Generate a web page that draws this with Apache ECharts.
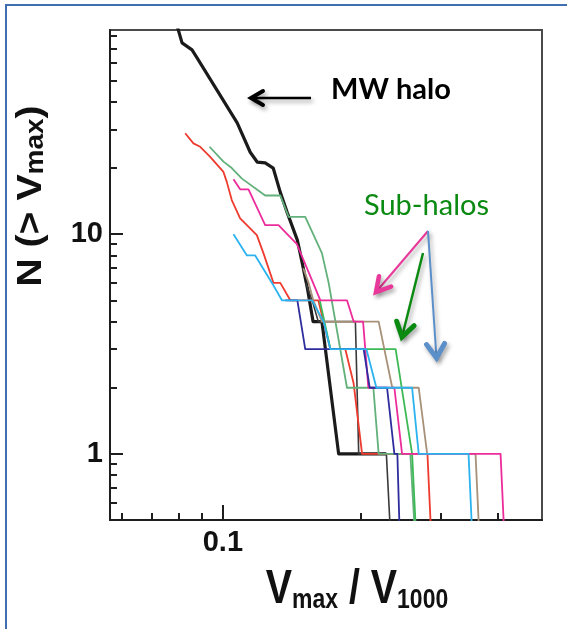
<!DOCTYPE html>
<html>
<head>
<meta charset="utf-8">
<script src="https://cdn.jsdelivr.net/npm/echarts@6/dist/echarts.min.js"></script>
<style>
  html, body { margin: 0; padding: 0; background: #ffffff; }
  #chart { width: 567px; height: 629px; }
</style>
</head>
<body>
<div id="chart"></div>
<script>
// ---- axis ranges and ticks (data units) ----
const xRange = [0.0566, 0.5];
const yRange = [0.5, 85];
const xMajorTicks = [0.1];
const xMinorTicks = [0.06, 0.07, 0.08, 0.09, 0.2, 0.3, 0.4];
const yMajorTicks = [1, 10];
const yMinorTicks = [0.6, 0.7, 0.8, 0.9, 2, 3, 4, 5, 6, 7, 8, 9, 20, 30, 40, 50, 60, 70, 80];

// ---- cumulative counts N(>Vmax) against Vmax/V1000 ----
const mwVmax = [0.0795, 0.0814, 0.0856, 0.0878, 0.1075, 0.1148, 0.1189, 0.1238, 0.1289, 0.1336, 0.1384, 0.1456, 0.1492, 0.1531, 0.1576, 0.1648, 0.1793, 0.2281];
const mwN    = [88, 74.3, 69, 63.5, 32.1, 23.6, 21.3, 21.1, 20, 15.5, 12.5, 9.4, 7.4, 5.7, 4, 4, 1, 1];

const grayVmax = [0.1519, 0.1569, 0.1618, 0.1951, 0.1984, 0.2281, 0.2333];
const grayN    = [6, 5, 4, 4, 1, 1, 0.4];

const redVmax = [0.0827, 0.0862, 0.0892, 0.0938, 0.1003, 0.1020, 0.1046, 0.1091, 0.1187, 0.1227, 0.1291, 0.1336, 0.1405, 0.1618, 0.1719, 0.1854, 0.1934, 0.2018, 0.2806, 0.2863];
const redN    = [28.8, 25.9, 25.0, 22.5, 19.2, 17.3, 14.3, 11.8, 9.9, 8.2, 6, 6, 5, 5, 3, 3, 2.09, 1, 1, 0.4];

const seaGreenVmax = [0.0935, 0.1003, 0.1046, 0.1101, 0.1238, 0.1336, 0.1393, 0.1515, 0.1648, 0.1705, 0.1870, 0.2136, 0.2194, 0.2574, 0.2640];
const seaGreenN    = [25, 21.4, 20, 17.9, 15, 15, 12, 12, 8.2, 6, 2, 2, 1, 1, 0.4];

const greenVmax = [0.1630, 0.1720, 0.2390, 0.2597, 0.2615, 0.2654];
const greenN    = [5, 3, 3, 1, 1, 0.4];

const brownVmax = [0.1500, 0.1541, 0.1578, 0.1648, 0.2194, 0.2350, 0.2685, 0.2802, 0.3576, 0.3649];
const brownN    = [7, 6, 5, 4, 4, 2, 2, 1, 1, 0.4];

const pinkVmax = [0.1055, 0.1091, 0.1138, 0.1238, 0.1324, 0.1453, 0.1528, 0.1635, 0.1870, 0.1934, 0.2028, 0.2083, 0.2375, 0.2469, 0.4057, 0.4140];
const pinkN    = [17.8, 16, 16, 11, 11, 9, 7, 5, 5, 4, 4, 2, 2, 1, 1, 0.4];

const navyVmax = [0.1370, 0.1456, 0.1515, 0.2034, 0.2097, 0.2289, 0.2375, 0.2411, 0.2442];
const navyN    = [5, 5, 3, 3, 2, 2, 1, 1, 0.4];

const skyVmax = [0.1055, 0.1129, 0.1177, 0.1281, 0.1347, 0.1568, 0.1662, 0.1719, 0.2062, 0.2169, 0.2597, 0.2685, 0.3452, 0.3522];
const skyN    = [10, 8, 8, 6, 5, 5, 4, 3, 3, 2, 2, 1, 1, 0.4];

// ---- helpers ----
const lg = Math.log10;
const toPts = (xs, ys) => xs.map((x, i) => [lg(x), lg(ys[i])]);
const fmtNum = v => String(Number(Math.pow(10, v).toPrecision(3)));

const curves = [
  { name: 'MW halo', x: mwVmax, y: mwN, color: '#1b1b1b', width: 3.2 },
  { name: 'sub-halo A', x: grayVmax, y: grayN, color: '#3a3a3a', width: 1.6 },
  { name: 'sub-halo B', x: redVmax, y: redN, color: '#ee3b2e', width: 1.8 },
  { name: 'sub-halo C', x: seaGreenVmax, y: seaGreenN, color: '#62b07a', width: 1.8 },
  { name: 'sub-halo D', x: greenVmax, y: greenN, color: '#3dba55', width: 1.8 },
  { name: 'sub-halo E', x: brownVmax, y: brownN, color: '#a89179', width: 1.8 },
  { name: 'sub-halo F', x: pinkVmax, y: pinkN, color: '#ec2c9b', width: 1.8 },
  { name: 'sub-halo G', x: navyVmax, y: navyN, color: '#2d2d9e', width: 1.8 },
  { name: 'sub-halo H', x: skyVmax, y: skyN, color: '#2bb3ef', width: 1.8 }
];

const FONT = '"Liberation Sans", Arial, sans-serif';
const FONT_ANN = 'Lato, "Open Sans", sans-serif';

// arrow head as a chevron polyline, tip at (tx,ty), coming from (fx,fy)
function chevron(fx, fy, tx, ty, len, half) {
  const dx = tx - fx, dy = ty - fy, d = Math.hypot(dx, dy);
  const ux = dx / d, uy = dy / d, px = -uy, py = ux;
  return [[tx - ux * len + px * half, ty - uy * len + py * half], [tx, ty], [tx - ux * len - px * half, ty - uy * len - py * half]];
}
function arrow(fx, fy, tx, ty, color, lw, len, half, headW) {
  const shadow = { shadowBlur: 4, shadowOffsetX: 2, shadowOffsetY: 3, shadowColor: 'rgba(0,0,0,0.35)' };
  return [
    { type: 'line', shape: { x1: fx, y1: fy, x2: tx, y2: ty }, style: Object.assign({ stroke: color, lineWidth: lw }, shadow), z: 100 },
    { type: 'polyline', shape: { points: chevron(fx, fy, tx, ty, len, half) }, style: Object.assign({ stroke: color, lineWidth: headW, fill: null, lineJoin: 'miter', lineCap: 'round' }, shadow), z: 100 }
  ];
}

const chart = echarts.init(document.getElementById('chart'), null, { renderer: 'canvas' });

const axisCommon = { type: 'value', splitLine: { show: false }, minorTick: { show: false } };
const lineOff = { show: false, onZero: false };

const option = {
  backgroundColor: '#ffffff',
  animation: false,
  grid: { left: 110, top: 30, width: 432, height: 490, containLabel: false, show: true, borderColor: '#4a4a4a', borderWidth: 2, backgroundColor: 'transparent' },
  xAxis: [
    Object.assign({}, axisCommon, {
      min: lg(xRange[0]), max: lg(xRange[1]), position: 'bottom',
      axisLine: { show: true, onZero: false, lineStyle: { color: '#1e1e1e', width: 2 } },
      axisTick: { show: true, inside: true, length: 15, lineStyle: { color: '#1e1e1e', width: 2 }, customValues: xMajorTicks.map(lg) },
      axisLabel: { show: true, margin: 8, color: '#111', fontFamily: FONT, fontWeight: 'bold', fontSize: 29, customValues: xMajorTicks.map(lg), formatter: fmtNum }
    }),
    Object.assign({}, axisCommon, {
      min: lg(xRange[0]), max: lg(xRange[1]), position: 'bottom', offset: 0,
      axisLine: lineOff,
      axisTick: { show: true, inside: true, length: 7, lineStyle: { color: '#1e1e1e', width: 2 }, customValues: xMinorTicks.map(lg) },
      axisLabel: { show: false }
    })
  ],
  yAxis: [
    Object.assign({}, axisCommon, {
      min: lg(yRange[0]), max: lg(yRange[1]), position: 'left',
      axisLine: { show: true, onZero: false, lineStyle: { color: '#1e1e1e', width: 2 } },
      axisTick: { show: true, inside: true, length: 13, lineStyle: { color: '#1e1e1e', width: 2 }, customValues: yMajorTicks.map(lg) },
      axisLabel: { show: true, margin: 7, color: '#111', fontFamily: FONT, fontWeight: 'bold', fontSize: 29, customValues: yMajorTicks.map(lg), formatter: fmtNum }
    }),
    Object.assign({}, axisCommon, {
      min: lg(yRange[0]), max: lg(yRange[1]), position: 'left', offset: 0,
      axisLine: lineOff,
      axisTick: { show: true, inside: true, length: 7, lineStyle: { color: '#1e1e1e', width: 2 }, customValues: yMinorTicks.map(lg) },
      axisLabel: { show: false }
    })
  ],
  series: curves.map(c => ({
    type: 'line', name: c.name, xAxisIndex: 0, yAxisIndex: 0,
    data: toPts(c.x, c.y), showSymbol: false, symbol: 'none', clip: true,
    lineStyle: { color: c.color, width: c.width, join: 'round' }, emphasis: { disabled: true }
  })),
  graphic: [
    // slide frame
    { type: 'rect', shape: { x: 6, y: 5, width: 620, height: 700 }, style: { stroke: '#3f6fb0', lineWidth: 2, fill: null }, z: 0, silent: true },
    // axis titles
    {
      type: 'text', x: 357, y: 614, scaleX: 0.82, z: 50,
      style: {
        text: '{m|V}{s|max}{m| / V}{s|1000}', align: 'center', verticalAlign: 'bottom',
        rich: {
          m: { fontFamily: FONT, fontWeight: 'bold', fontSize: 48, lineHeight: 48, verticalAlign: 'bottom', fill: '#111' },
          s: { fontFamily: FONT, fontWeight: 'bold', fontSize: 28, lineHeight: 8, verticalAlign: 'bottom', fill: '#111' }
        }
      }
    },
    {
      type: 'text', x: 31, y: 196, rotation: Math.PI / 2, scaleX: 1.12, z: 50,
      style: {
        text: '{m|N (> V}{s|max}{m|)}', align: 'center', verticalAlign: 'middle',
        rich: {
          m: { fontFamily: FONT, fontWeight: 'bold', fontSize: 35, lineHeight: 35, verticalAlign: 'bottom', fill: '#111' },
          s: { fontFamily: FONT, fontWeight: 'bold', fontSize: 25, lineHeight: 12, verticalAlign: 'bottom', fill: '#111' }
        }
      }
    },
    // annotations
    { type: 'text', x: 331, y: 104, z: 100, style: { text: 'MW halo', fontFamily: FONT_ANN, fontWeight: 'bold', fontSize: 29, fill: '#000', align: 'left', verticalAlign: 'bottom' } },
    { type: 'text', x: 364, y: 220, z: 100, style: { text: 'Sub-halos', fontFamily: FONT_ANN, fontWeight: 'normal', fontSize: 29, fill: '#0b8a12', align: 'left', verticalAlign: 'bottom' } }
  ]
    .concat(arrow(311, 98, 251, 98, '#000000', 2.5, 12, 7, 4))
    .concat(arrow(428, 231, 376, 292, '#e8399a', 2, 14, 8, 4.5))
    .concat(arrow(423, 253, 402, 337, '#0b8a12', 2.5, 14, 9, 5))
    .concat(arrow(428, 231, 436.5, 358, '#5b8fca', 2, 14, 9, 5))
};

chart.setOption(option);
</script>
</body>
</html>
